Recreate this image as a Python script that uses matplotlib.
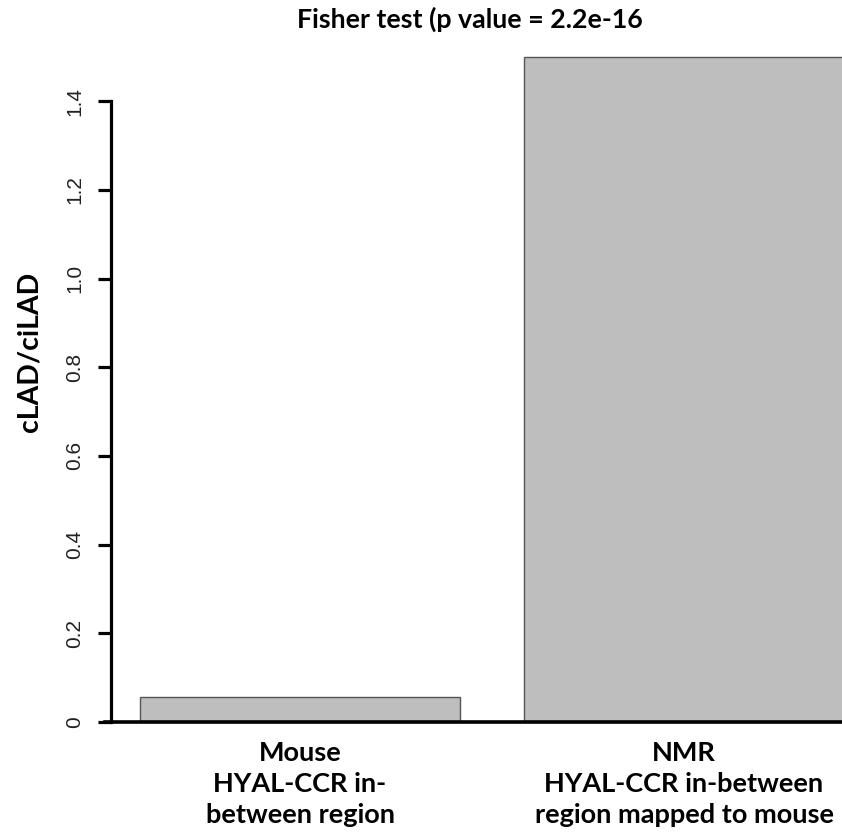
import matplotlib
matplotlib.use("Agg")
from matplotlib import pyplot as plt

# data
groups = ["Mouse\nHYAL-CCR in-\nbetween region",
          "NMR\nHYAL-CCR in-between\nregion mapped to mouse"]
ratios = [0.057, 1.50]
yticks = [0, 0.2, 0.4, 0.6, 0.8, 1.0, 1.2, 1.4]
ytickLabels = ["0", "0.2", "0.4", "0.6", "0.8", "1.0", "1.2", "1.4"]
title = "Fisher test (p value = 2.2e-16"
ylabel = "cLAD/ciLAD"

W, H = 842, 832
fig = plt.figure(figsize=(W / 100, H / 100), dpi=100)

# axes placed in pixels: x=0 at px 76, 320 px per unit; y=0 at px 722, 443.5 px per unit
left, right, bottom, top = 60, 842, 722, 40
ax = fig.add_axes([left / W, (H - bottom) / H, (right - left) / W, (bottom - top) / H])
ax.set_xlim((left - 76) / 320, (right - 76) / 320)
ax.set_ylim(0, (bottom - top) / 443.5)

pos = [0.7, 1.9]
ax.bar(pos, ratios, width=1.0, color="#bebebe", edgecolor="#555555", linewidth=1.0, zorder=2)

for s in ["top", "right"]:
    ax.spines[s].set_visible(False)
ax.spines["left"].set_position(("data", (111 - 76) / 320))
ax.spines["left"].set_bounds(0, 1.4)
ax.spines["left"].set_linewidth(2.3)
ax.spines["bottom"].set_bounds((105 - 76) / 320, 2.5)
ax.spines["bottom"].set_linewidth(2.6)
ax.spines["bottom"].set_zorder(3)

ax.set_yticks(yticks)
ax.set_yticklabels(ytickLabels, rotation=90, va="center", family="Liberation Sans",
                   fontsize=15, color="#222222")
ax.tick_params(axis="y", length=9.5, width=2.3, pad=10)

ax.set_xticks(pos)
ax.set_xticklabels(groups, family="Lato", fontweight="bold", fontsize=19.5, linespacing=1.33)
ax.tick_params(axis="x", length=0, pad=14)

fig.text(470 / W, 1 - 19 / H, title, ha="center", va="center",
         family="Lato", fontweight="bold", fontsize=19.3)
fig.text(30 / W, 1 - 352 / H, ylabel, ha="center", va="center", rotation=90,
         family="Lato", fontweight="bold", fontsize=20.5)

fig.savefig("out.png", dpi=100)
